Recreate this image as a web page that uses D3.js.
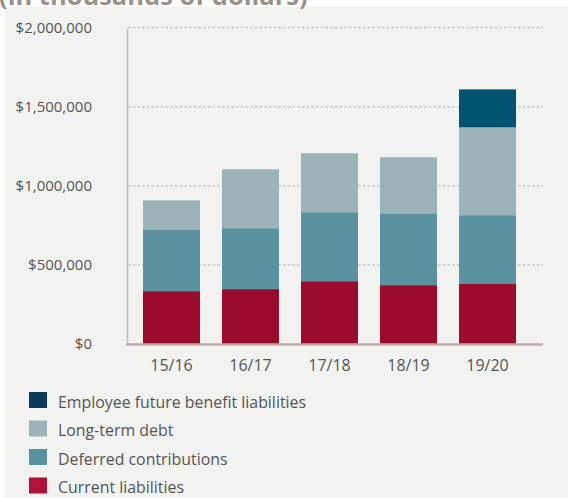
<!DOCTYPE html>
<html>
<head>
<meta charset="utf-8">
<script src="https://cdn.jsdelivr.net/npm/d3@7"></script>
<style>
  html, body { margin: 0; padding: 0; background: #fff; }
  svg { display: block; font-family: "Open Sans", sans-serif; }
</style>
</head>
<body>
<svg id="chart" width="568" height="498"></svg>
<script>
// values in thousands of dollars
var years = ["15/16", "16/17", "17/18", "18/19", "19/20"];
var currentLiabilities = [334, 347, 397, 372, 379];
var deferredContributions = [391, 385, 436, 454, 435];
var longTermDebt = [183, 372, 372, 354, 555];
var employeeBenefits = [0, 0, 0, 0, 240];
var yTicks = [0, 500000, 1000000, 1500000, 2000000];
var seriesNames = ["Current liabilities", "Deferred contributions", "Long-term debt", "Employee future benefit liabilities"];

(function(){
  "use strict";

  var barColors = ["#9b0b2d", "#5b929f", "#9bb4b8", "#00546f"];
  var legendColors = ["#b0103a", "#5b929f", "#9bb4b8", "#0a3a5c"];

  var svg = d3.select("#chart");

  // panel
  svg.append("rect").attr("x", 5).attr("y", 7).attr("width", 563).attr("height", 491).attr("fill", "#f2f2f0");

  // title, mostly cut off above the panel
  svg.append("text").attr("x", -1).attr("y", 5)
    .attr("font-size", 25.5).attr("font-weight", "bold").attr("fill", "#9a918b")
    .text("(in thousands of dollars)");

  var rows = years.map(function(y, i) {
    return {year: y, s0: currentLiabilities[i] * 1000, s1: deferredContributions[i] * 1000,
            s2: longTermDebt[i] * 1000, s3: employeeBenefits[i] * 1000};
  });
  var keys = ["s0", "s1", "s2", "s3"];
  var stacked = d3.stack().keys(keys)(rows);

  var x = d3.scaleBand().domain(years).range([132, 527]).paddingInner(0.2785).paddingOuter(0.139);
  var y = d3.scaleLinear().domain([0, 2000000]).range([344, 27.5]);

  // grid
  svg.append("g").selectAll("line").data(yTicks.slice(1)).enter().append("line")
    .attr("x1", 128).attr("x2", 543)
    .attr("y1", function(d){ return y(d); }).attr("y2", function(d){ return y(d); })
    .attr("stroke", "#c9c5c1").attr("stroke-width", 1.5).attr("stroke-dasharray", "2.5,2.2");

  // y labels
  var fmt = d3.format(",");
  svg.append("g").selectAll("text").data(yTicks).enter().append("text")
    .attr("x", 92).attr("y", function(d){ return y(d); }).attr("dy", "0.35em")
    .attr("text-anchor", "end").attr("font-size", 15).attr("fill", "#555")
    .text(function(d){ return "$" + fmt(d); });

  // bars
  svg.append("g").selectAll("g").data(stacked).enter().append("g")
    .attr("fill", function(d, i){ return barColors[i]; })
    .selectAll("rect").data(function(d){ return d; }).enter().append("rect")
    .attr("x", function(d){ return x(d.data.year); })
    .attr("width", x.bandwidth())
    .attr("y", function(d){ return y(d[1]); })
    .attr("height", function(d){ return y(d[0]) - y(d[1]); });

  // axes
  svg.append("line").attr("x1", 127.5).attr("x2", 127.5).attr("y1", 29).attr("y2", 344)
    .attr("stroke", "#c4bcb5").attr("stroke-width", 1.6);
  svg.append("line").attr("x1", 126).attr("x2", 543).attr("y1", 344.5).attr("y2", 344.5)
    .attr("stroke", "#b8aea6").attr("stroke-width", 2.5);

  // x labels
  svg.append("g").selectAll("text").data(years).enter().append("text")
    .attr("x", function(d){ return x(d) + x.bandwidth() / 2; }).attr("y", 371)
    .attr("text-anchor", "middle").attr("font-size", 16).attr("fill", "#555")
    .text(function(d){ return d; });

  // legend
  var order = [3, 2, 1, 0];
  var leg = svg.append("g").selectAll("g").data(order).enter().append("g")
    .attr("transform", function(d, i){ return "translate(29," + (392 + i * 28.5) + ")"; });
  leg.append("rect").attr("width", 18).attr("height", 16)
    .attr("fill", function(d){ return legendColors[d]; });
  leg.append("text").attr("x", 29).attr("y", 15.5)
    .attr("font-size", 15.9).attr("fill", "#555")
    .text(function(d){ return seriesNames[d]; });
})();
</script>
</body>
</html>
